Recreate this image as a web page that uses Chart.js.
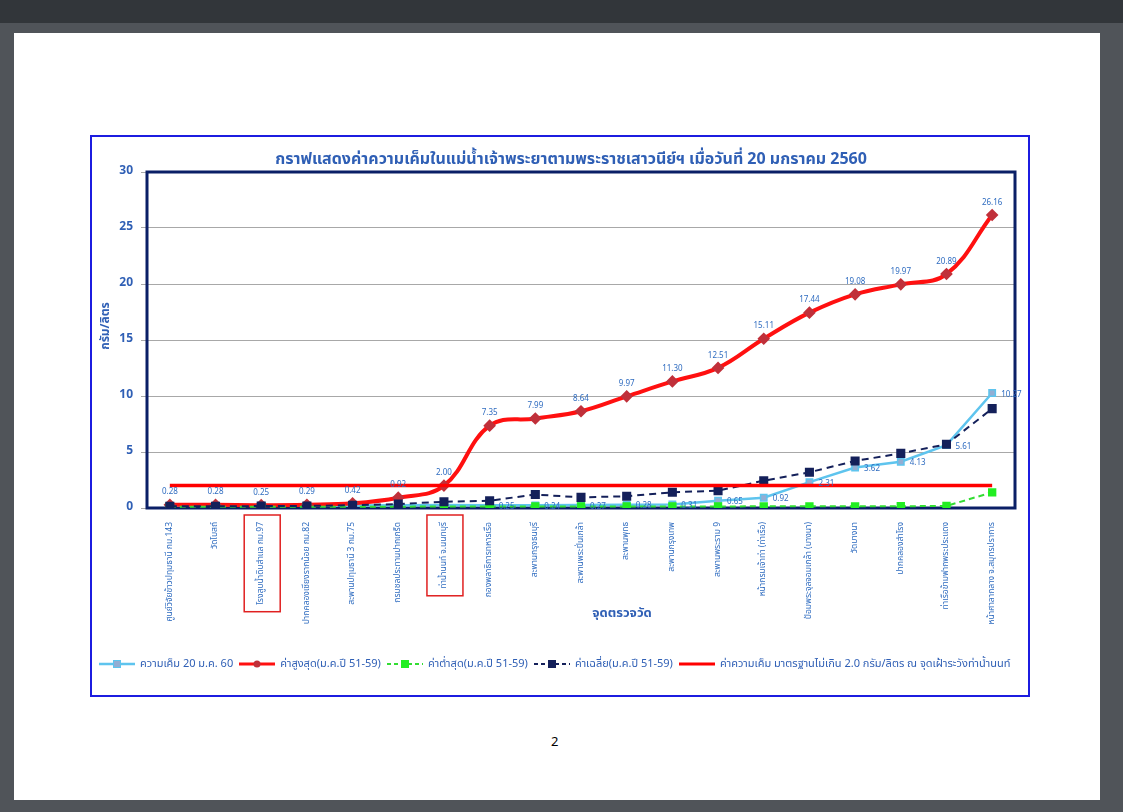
<!DOCTYPE html>
<html lang="th">
<head>
<meta charset="utf-8">
<title>ค่าความเค็มในแม่น้ำเจ้าพระยา</title>
<script src="https://cdn.jsdelivr.net/npm/chart.js@4.4.1/dist/chart.umd.min.js"></script>
<style>
  html, body { margin: 0; padding: 0; }
  body {
    width: 1123px; height: 812px; position: relative; overflow: hidden;
    background: #505459;
    font-family: Tahoma, "Noto Sans Thai", "Leelawadee UI", "DejaVu Sans", sans-serif;
  }
  #topbar { position: absolute; left: 0; top: 0; width: 1123px; height: 23px; background: #32363a; }
  #page { position: absolute; left: 14px; top: 33px; width: 1086px; height: 767px; background: #fff; }
  #box {
    position: absolute; left: 90px; top: 135px; width: 940px; height: 562px;
    border: 2px solid #1c1ce0; box-sizing: border-box; background: #fff; overflow: hidden;
  }
  #chart { position: absolute; left: 0; top: 0; }
  #title {
    position: absolute; left: 22px; right: 0; top: 10px; text-align: center;
    color: #2f5fb5; font-size: 16px; font-weight: bold; white-space: nowrap;
  }
  #ytitle {
    position: absolute; left: -37px; width: 100px; top: 180px; text-align: center;
    transform: rotate(-90deg); color: #2f5fb5; font-size: 12px; font-weight: bold; white-space: nowrap;
  }
  #xtitle {
    position: absolute; left: 480px; width: 100px; top: 466px; text-align: center;
    color: #2f5fb5; font-size: 13px; font-weight: bold; white-space: nowrap;
  }
  #legend {
    position: absolute; left: 6px; top: 518px; display: flex; align-items: center;
    white-space: nowrap; color: #2f5fb5; font-size: 11px;
  }
  .item { display: flex; align-items: center; margin-right: 5px; }
  .item canvas { margin-right: 4px; }
  #pagenum { position: absolute; left: 551px; top: 732px; font-size: 13px; color: #000; }
</style>
</head>
<body>
<div id="topbar"></div>
<div id="page"></div>
<div id="box">
  <canvas id="chart" width="936" height="558"></canvas>
  <div id="title">กราฟแสดงค่าความเค็มในแม่น้ำเจ้าพระยาตามพระราชเสาวนีย์ฯ เมื่อวันที่ 20 มกราคม 2560</div>
  <div id="ytitle">กรัม/ลิตร</div>
  <div id="xtitle">จุดตรวจวัด</div>
  <div id="legend"></div>
</div>
<div id="pagenum">2</div>

<script>
// Monitoring stations along the river, upstream to river mouth
const stations = [
  'ศูนย์วิจัยข้าวปทุมธานี กม.143',
  'วัดโบสถ์',
  'โรงสูบน้ำดิบสำแล กม.97',
  'ปากคลองเชียงรากน้อย กม.82',
  'สะพานปทุมธานี 3 กม.75',
  'กรมชลประทานปากเกร็ด',
  'ท่าน้ำนนท์ จ.นนทบุรี',
  'กองพลาธิการทหารเรือ',
  'สะพานกรุงธนบุรี',
  'สะพานพระปิ่นเกล้า',
  'สะพานพุทธ',
  'สะพานกรุงเทพ',
  'สะพานพระราม 9',
  'หน้ากรมเจ้าท่า (ท่าเรือ)',
  'ป้อมพระจุลจอมเกล้า (บางนา)',
  'วัดบางนา',
  'ปากคลองสำโรง',
  'ท่าเรือข้ามฟากพระประแดง',
  'หน้าศาลากลาง จ.สมุทรปราการ'
];

// Salinity (g/l)
const salinity20Jan60 = [0.20, 0.20, 0.21, 0.21, 0.22, 0.24, 0.26, 0.25, 0.24, 0.27, 0.28, 0.31, 0.65, 0.92, 2.31, 3.62, 4.13, 5.61, 10.27];
const maxJan51to59   = [0.28, 0.28, 0.25, 0.29, 0.42, 0.92, 2.00, 7.35, 7.99, 8.64, 9.97, 11.30, 12.51, 15.11, 17.44, 19.08, 19.97, 20.89, 26.16];
const minJan51to59   = [0.12, 0.12, 0.12, 0.12, 0.12, 0.12, 0.13, 0.13, 0.13, 0.13, 0.14, 0.14, 0.14, 0.15, 0.15, 0.15, 0.16, 0.18, 1.40];
const avgJan51to59   = [0.16, 0.16, 0.17, 0.18, 0.25, 0.35, 0.56, 0.65, 1.20, 0.95, 1.05, 1.40, 1.55, 2.44, 3.19, 4.20, 4.88, 5.69, 8.87];
const standardLimit  = stations.map(() => 2.0);

const yTicks = { min: 0, max: 30, step: 5 };

const seriesNames = [
  'ความเค็ม 20 ม.ค. 60',
  'ค่าสูงสุด(ม.ค.ปี 51-59)',
  'ค่าต่ำสุด(ม.ค.ปี 51-59)',
  'ค่าเฉลี่ย(ม.ค.ปี 51-59)',
  'ค่าความเค็ม มาตรฐานไม่เกิน 2.0 กรัม/ลิตร ณ จุดเฝ้าระวังท่าน้ำนนท์'
];

const labelBlue = '#2f6cc0';
const thaiFont = 'Tahoma, "Noto Sans Thai", "Leelawadee UI", "DejaVu Sans", sans-serif';
const stationFontSize = 8.5;
Chart.defaults.font.family = thaiFont;

// Navy frame round the plot area
const plotFrame = {
  id: 'plotFrame',
  beforeDatasetsDraw(chart) {
    const { ctx, chartArea: a } = chart;
    ctx.save();
    ctx.strokeStyle = '#0a1f66';
    ctx.lineWidth = 3;
    ctx.strokeRect(a.left, a.top, a.right - a.left, a.bottom - a.top);
    ctx.restore();
  }
};

// Value labels beside the points of chosen series
const valueLabels = {
  id: 'valueLabels',
  afterDatasetsDraw(chart, args, opts) {
    const ctx = chart.ctx;
    ctx.save();
    ctx.font = opts.font;
    ctx.fillStyle = opts.color;
    opts.series.forEach(s => {
      const ds = chart.data.datasets[s.index];
      chart.getDatasetMeta(s.index).data.forEach((pt, i) => {
        if (i < (s.from || 0)) return;
        const txt = ds.data[i].toFixed(2);
        if (s.pos === 'top') {
          ctx.textAlign = 'center'; ctx.textBaseline = 'bottom';
          ctx.fillText(txt, pt.x, pt.y - 8);
        } else {
          ctx.textAlign = 'left'; ctx.textBaseline = 'middle';
          ctx.fillText(txt, pt.x + 9, pt.y + 2);
        }
      });
    });
    ctx.restore();
  }
};

// Red boxes round the highlighted station names
const stationBoxes = {
  id: 'stationBoxes',
  afterDraw(chart, args, opts) {
    const { ctx } = chart;
    const x = chart.scales.x;
    ctx.save();
    ctx.font = stationFontSize + 'px ' + thaiFont;
    ctx.strokeStyle = '#e02020';
    ctx.lineWidth = 1.5;
    opts.indices.forEach(i => {
      const cx = x.getPixelForValue(i);
      const len = ctx.measureText(stations[i]).width;
      const top = x.top + 7;
      ctx.strokeRect(cx - 17, top, 36, len + 14);
    });
    ctx.restore();
  }
};

const chart = new Chart(document.getElementById('chart'), {
  type: 'line',
  data: {
    labels: stations,
    datasets: [
      { label: seriesNames[0], data: salinity20Jan60, borderColor: '#5ec4ee', borderWidth: 2.5,
        pointStyle: 'rect', pointRadius: 4.5, pointBackgroundColor: '#93aed3', pointBorderColor: '#5ec4ee', pointBorderWidth: 1.5,
        order: 5 },
      { label: seriesNames[1], data: maxJan51to59, borderColor: '#ff1010', borderWidth: 4, tension: 0.4,
        pointStyle: 'rectRot', pointRadius: 3.5, pointBackgroundColor: '#c0303a', pointBorderColor: '#c0303a', order: 4 },
      { label: seriesNames[2], data: minJan51to59, borderColor: '#33dd33', borderWidth: 2, borderDash: [6, 4],
        pointStyle: 'rect', pointRadius: 4.5, pointBackgroundColor: '#22ee22', pointBorderColor: '#22ee22', order: 3 },
      { label: seriesNames[3], data: avgJan51to59, borderColor: '#14205a', borderWidth: 2, borderDash: [7, 5],
        pointStyle: 'rect', pointRadius: 5, pointBackgroundColor: '#14205a', pointBorderColor: '#14205a', order: 2 },
      { label: seriesNames[4], data: standardLimit, borderColor: '#ff0000', borderWidth: 3.5,
        pointRadius: 0, order: 1 }
    ]
  },
  options: {
    responsive: false,
    animation: false,
    layout: { padding: { left: 0, right: 13, top: 35, bottom: 59 } },
    plugins: {
      legend: { display: false },
      title: { display: false },
      tooltip: { enabled: false },
      valueLabels: {
        font: '8px ' + thaiFont, color: labelBlue,
        series: [{ index: 1, pos: 'top' }, { index: 0, pos: 'right', from: 7 }]
      },
      stationBoxes: { indices: [2, 6] }
    },
    scales: {
      x: {
        offset: true,
        grid: { display: false, offset: true },
        border: { display: false },
        ticks: { minRotation: 90, maxRotation: 90, autoSkip: false, padding: 6, color: labelBlue, font: { size: stationFontSize } },
        afterFit(scale) { scale.height = 128; }
      },
      y: {
        min: yTicks.min, max: yTicks.max,
        grid: { color: '#a8a8a8', lineWidth: 1, tickLength: 6, tickColor: '#a8a8a8' },
        border: { display: false },
        ticks: { stepSize: yTicks.step, padding: 8, color: '#2f5fb5', font: { size: 12, weight: 'bold' } },
        afterFit(scale) { scale.width = 55; }
      }
    }
  },
  plugins: [plotFrame, valueLabels, stationBoxes]
});

// Legend: a line sample with the series marker, then its name
function legendSample(ds) {
  const c = document.createElement('canvas');
  c.width = 38; c.height = 12;
  const g = c.getContext('2d');
  g.strokeStyle = ds.borderColor;
  g.lineWidth = Math.min(ds.borderWidth, 3);
  g.setLineDash(ds.borderDash ? [4, 3] : []);
  g.beginPath(); g.moveTo(1, 6); g.lineTo(37, 6); g.stroke();
  g.setLineDash([]);
  if (ds.pointRadius > 0) {
    g.fillStyle = ds.pointBackgroundColor;
    g.strokeStyle = ds.pointBorderColor;
    g.lineWidth = 1;
    if (ds.pointStyle === 'rectRot') {
      g.beginPath(); g.arc(19, 6, 3.5, 0, Math.PI * 2); g.fill();
    } else {
      g.fillRect(15, 2, 8, 8); g.strokeRect(15.5, 2.5, 7, 7);
    }
  }
  return c;
}
const legendBox = document.getElementById('legend');
chart.data.datasets.forEach(ds => {
  const item = document.createElement('div');
  item.className = 'item';
  item.appendChild(legendSample(ds));
  const t = document.createElement('span');
  t.textContent = ds.label;
  item.appendChild(t);
  legendBox.appendChild(item);
});
</script>
</body>
</html>
